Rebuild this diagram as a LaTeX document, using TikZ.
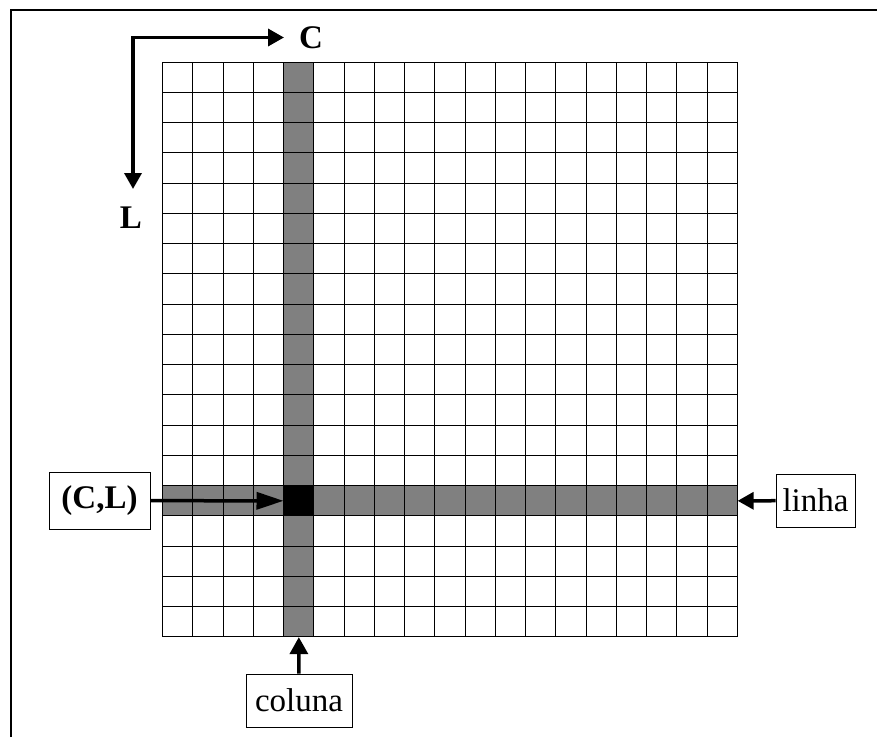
\documentclass[tikz,border=0pt]{standalone}
\usepackage{fontspec}
\setmainfont{Liberation Serif}
\usetikzlibrary{arrows.meta}

\begin{document}
\begin{tikzpicture}[x=1pt, y=-1pt]

		% Colors
		\definecolor{bandcolor}{RGB}{128,128,128} % Gray
		
		\useasboundingbox (0,0) rectangle (877,737);
		
		% Frame
		\draw[line width=2.5pt] (11,737) -- (11,10) -- (877,10);
		
		% Highlighted column, row and cell
		\node (col) [fill=bandcolor, inner sep=0, minimum width=30.25pt, minimum height=574.75pt, anchor=north west] at (283.5,62) {};
		\node (row) [fill=bandcolor, inner sep=0, minimum width=574.75pt, minimum height=30.25pt, anchor=north west] at (162.5,485.5) {};
		\node (cell) [fill=black, inner sep=0, minimum size=30.25pt, anchor=north west] at (283.5,485.5) {};
		
		% Grid
		\foreach \i in {0,...,19} {
			\draw[line width=0.9pt] (162.5+\i*30.25,62) -- (162.5+\i*30.25,636.75);
			\draw[line width=0.9pt] (162.5,62+\i*30.25) -- (737.25,62+\i*30.25);
		}
		
		% Axes
		\coordinate (corner) at (133,37.5);
		\coordinate (ctip) at (284,37.5);
		\coordinate (ltip) at (133,189);
		\draw[line width=3.5pt, {Triangle[length=16pt, width=17pt]}-{Triangle[length=16pt, width=17pt]}] (ltip) -- (corner) -- (ctip);
		\node (clabel) [font=\fontsize{33}{38}\selectfont\bfseries] at (311,38) {C};
		\node (llabel) [font=\fontsize{33}{38}\selectfont\bfseries] at (131,218) {L};
		
		% Boxes
		\node (clbox) [draw, line width=0.8pt, font=\fontsize{33}{38}\selectfont\bfseries, minimum width=101pt, minimum height=57pt] at (99.5,500.625) {(C,L)};
		\node (colbox) [draw, line width=0.8pt, font=\fontsize{33}{38}\selectfont, minimum width=106pt, minimum height=53pt] at (299,700.5) {coluna};
		\node (linbox) [draw, line width=0.8pt, font=\fontsize{33}{38}\selectfont, minimum width=79pt, minimum height=53pt] at (815.5,500.625) {linha};
		
		% Connections
		\draw[line width=3.5pt, -{Triangle[length=27pt, width=17pt]}] (clbox) -- (cell.west);
		\draw[line width=3.5pt, -{Triangle[length=17pt, width=18pt]}] (colbox) -- (col.south);
		\draw[line width=3.5pt, -{Triangle[length=16pt, width=17pt]}] (linbox) -- (row.east);
		
	\end{tikzpicture}
\end{document}
